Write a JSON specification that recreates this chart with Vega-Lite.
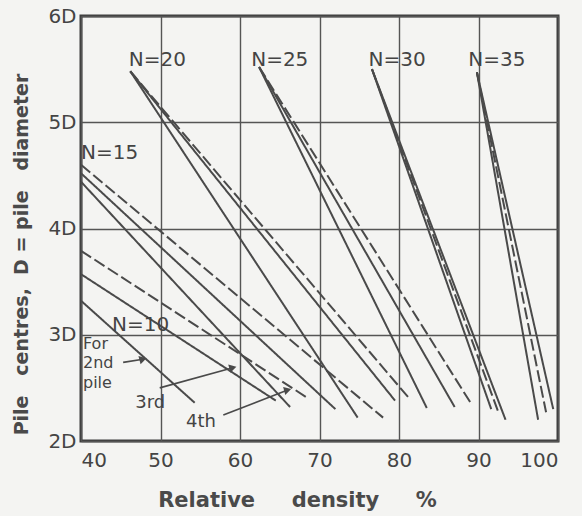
{
  "$schema": "https://vega.github.io/schema/vega-lite/v6.json",
  "width": 477,
  "height": 425,
  "autosize": "none",
  "padding": {"left": 81, "top": 16, "right": 24, "bottom": 75},
  "background": "#f4f4f2",
  "config": {
    "view": {"stroke": "#3d3d3d", "strokeWidth": 3},
    "font": "DejaVu Sans"
  },
  "datasets": {
    "curves": [
      {"id": "10a", "style": "solid", "x": 40, "y": 3.32}, {"id": "10a", "style": "solid", "x": 54.3, "y": 2.36},
      {"id": "10b", "style": "solid", "x": 40, "y": 3.57}, {"id": "10b", "style": "solid", "x": 64.5, "y": 2.38},
      {"id": "10c", "style": "dashed", "x": 40, "y": 3.79}, {"id": "10c", "style": "dashed", "x": 68.6, "y": 2.4},
      {"id": "15a", "style": "solid", "x": 40, "y": 4.44}, {"id": "15a", "style": "solid", "x": 66.3, "y": 2.32},
      {"id": "15b", "style": "solid", "x": 40, "y": 4.52}, {"id": "15b", "style": "solid", "x": 72, "y": 2.3},
      {"id": "15c", "style": "dashed", "x": 40, "y": 4.6}, {"id": "15c", "style": "dashed", "x": 78, "y": 2.22},
      {"id": "20a", "style": "solid", "x": 46.2, "y": 5.48}, {"id": "20a", "style": "solid", "x": 74.8, "y": 2.22},
      {"id": "20b", "style": "solid", "x": 46.2, "y": 5.48}, {"id": "20b", "style": "solid", "x": 79.5, "y": 2.38},
      {"id": "20c", "style": "dashed", "x": 46.2, "y": 5.48}, {"id": "20c", "style": "dashed", "x": 81.3, "y": 2.4},
      {"id": "25a", "style": "solid", "x": 62.4, "y": 5.52}, {"id": "25a", "style": "solid", "x": 83.5, "y": 2.31},
      {"id": "25b", "style": "solid", "x": 62.4, "y": 5.52}, {"id": "25b", "style": "solid", "x": 87, "y": 2.32},
      {"id": "25c", "style": "dashed", "x": 62.4, "y": 5.52}, {"id": "25c", "style": "dashed", "x": 89, "y": 2.36},
      {"id": "30a", "style": "solid", "x": 76.6, "y": 5.5}, {"id": "30a", "style": "solid", "x": 91.6, "y": 2.3},
      {"id": "30b", "style": "dashed", "x": 76.6, "y": 5.5}, {"id": "30b", "style": "dashed", "x": 92.6, "y": 2.25},
      {"id": "30c", "style": "solid", "x": 76.6, "y": 5.5}, {"id": "30c", "style": "solid", "x": 93.4, "y": 2.2},
      {"id": "35a", "style": "solid", "x": 89.8, "y": 5.47}, {"id": "35a", "style": "solid", "x": 97.5, "y": 2.2},
      {"id": "35b", "style": "dashed", "x": 89.8, "y": 5.47}, {"id": "35b", "style": "dashed", "x": 98.5, "y": 2.27},
      {"id": "35c", "style": "solid", "x": 89.8, "y": 5.47}, {"id": "35c", "style": "solid", "x": 99.4, "y": 2.3}
    ],
    "labels": [
      {"x": 49.6, "y": 5.59, "label": "N=20"},
      {"x": 65.0, "y": 5.59, "label": "N=25"},
      {"x": 79.75, "y": 5.59, "label": "N=30"},
      {"x": 92.3, "y": 5.59, "label": "N=35"},
      {"x": 43.6, "y": 4.71, "label": "N=15"},
      {"x": 47.5, "y": 3.09, "label": "N=10"}
    ],
    "notes": [
      {"x": 40.25, "y": 2.91, "label": "For"},
      {"x": 40.25, "y": 2.73, "label": "2nd"},
      {"x": 40.25, "y": 2.55, "label": "pile"}
    ],
    "ordinals": [
      {"x": 48.7, "y": 2.36, "label": "3rd"},
      {"x": 55.1, "y": 2.18, "label": "4th"}
    ],
    "arrows": [
      {"x": 45.3, "y": 2.74, "x2": 47.8, "y2": 2.77},
      {"x": 49.9, "y": 2.5, "x2": 59.1, "y2": 2.69},
      {"x": 57.9, "y": 2.245, "x2": 66.0, "y2": 2.48}
    ]
  },
  "layer": [
    {
      "data": {"name": "curves"},
      "mark": {"type": "line", "color": "#4a4a4a", "strokeWidth": 2},
      "encoding": {
        "x": {
          "field": "x", "type": "quantitative",
          "scale": {"domain": [40, 100], "nice": false, "zero": false},
          "axis": {
            "values": [40, 50, 60, 70, 80, 90, 100],
            "grid": true, "gridColor": "#555555", "gridWidth": 1.4,
            "domain": false, "ticks": false,
            "labelFontSize": 20, "labelColor": "#444444", "labelPadding": 9,
            "title": "Relative\u00a0\u00a0\u00a0\u00a0\u00a0density\u00a0\u00a0\u00a0\u00a0\u00a0%",
            "titleFontSize": 21, "titleFontWeight": "bold", "titleColor": "#4a4a4a",
            "titleX": 216, "titleY": 59, "titleBaseline": "middle"
          }
        },
        "y": {
          "field": "y", "type": "quantitative",
          "scale": {"domain": [2, 6], "nice": false, "zero": false},
          "axis": {
            "values": [2, 3, 4, 5, 6],
            "labelExpr": "datum.value + 'D'",
            "grid": true, "gridColor": "#555555", "gridWidth": 1.4,
            "domain": false, "ticks": false,
            "labelFontSize": 20, "labelColor": "#444444", "labelPadding": 5,
            "title": "Pile\u00a0\u00a0\u00a0centres,\u00a0\u00a0D\u00a0=\u00a0pile\u00a0\u00a0\u00a0diameter",
            "titleFontSize": 19, "titleFontWeight": "bold", "titleColor": "#4a4a4a",
            "titleX": -60, "titleY": 238, "titleBaseline": "middle"
          }
        },
        "detail": {"field": "id"},
        "strokeDash": {
          "field": "style", "type": "nominal",
          "scale": {"domain": ["solid", "dashed"], "range": [[1, 0], [12, 4]]},
          "legend": null
        },
        "order": {"field": "x"}
      }
    },
    {
      "data": {"name": "arrows"},
      "mark": {"type": "rule", "color": "#4a4a4a", "strokeWidth": 1.6},
      "encoding": {
        "x": {"field": "x", "type": "quantitative"},
        "y": {"field": "y", "type": "quantitative"},
        "x2": {"field": "x2"},
        "y2": {"field": "y2"}
      }
    },
    {
      "data": {"name": "arrows"},
      "mark": {"type": "point", "shape": "triangle-right", "filled": true, "color": "#4a4a4a", "size": 70, "angle": 345, "opacity": 1},
      "encoding": {
        "x": {"field": "x2", "type": "quantitative"},
        "y": {"field": "y2", "type": "quantitative"}
      }
    },
    {
      "data": {"name": "labels"},
      "mark": {"type": "text", "fontSize": 20, "color": "#444444", "align": "center", "baseline": "middle"},
      "encoding": {
        "x": {"field": "x", "type": "quantitative"},
        "y": {"field": "y", "type": "quantitative"},
        "text": {"field": "label"}
      }
    },
    {
      "data": {"name": "notes"},
      "mark": {"type": "text", "fontSize": 16, "color": "#444444", "align": "left", "baseline": "middle"},
      "encoding": {
        "x": {"field": "x", "type": "quantitative"},
        "y": {"field": "y", "type": "quantitative"},
        "text": {"field": "label"}
      }
    },
    {
      "data": {"name": "ordinals"},
      "mark": {"type": "text", "fontSize": 18, "color": "#444444", "align": "center", "baseline": "middle"},
      "encoding": {
        "x": {"field": "x", "type": "quantitative"},
        "y": {"field": "y", "type": "quantitative"},
        "text": {"field": "label"}
      }
    }
  ]
}
